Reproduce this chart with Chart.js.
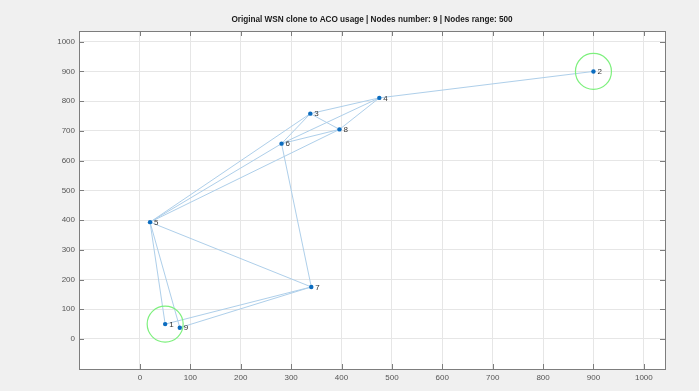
<!DOCTYPE html>
<html>
<head>
<meta charset="utf-8">
<script src="https://cdn.jsdelivr.net/npm/chart.js@4.4.0/dist/chart.umd.min.js"></script>
<style>
  html, body { margin: 0; padding: 0; background: #f0f0f0; }
  canvas { display: block; }
</style>
</head>
<body>
<canvas id="wsn" width="699" height="391"></canvas>
<script>
// ==============================
// DATA
// ==============================
const nodeIds = ['1', '2', '3', '4', '5', '6', '7', '8', '9'];
const nodeX = [50, 900, 338, 475, 20, 281, 340, 396, 79];
const nodeY = [50, 900, 758, 811, 393, 657, 175, 705, 38];

// links between nodes (by node id)
const linkFrom = ['1', '9', '1', '9', '5', '6', '5', '5', '5', '3', '3', '3', '6', '6', '8', '4'];
const linkTo   = ['5', '5', '7', '7', '7', '7', '3', '6', '8', '6', '4', '8', '8', '4', '4', '2'];

// sink / highlighted nodes
const ringIds = ['1', '2'];

const xTicks = [0, 100, 200, 300, 400, 500, 600, 700, 800, 900, 1000];
const yTicks = [0, 100, 200, 300, 400, 500, 600, 700, 800, 900, 1000];

const titleText = 'Original WSN clone to ACO usage | Nodes number: 9 | Nodes range: 500';

// ==============================
// BUILD DATASETS
// ==============================
const pt = id => {
  const i = nodeIds.indexOf(id);
  return { x: nodeX[i], y: nodeY[i] };
};

const linkSets = linkFrom.map((a, i) => ({
  type: 'line',
  data: [pt(a), pt(linkTo[i])],
  borderColor: '#aecfea',
  borderWidth: 1,
  pointRadius: 0,
  fill: false,
  order: 3
}));

const nodeSet = {
  data: nodeIds.map(pt),
  backgroundColor: '#0b6cbf',
  borderColor: '#0b6cbf',
  pointRadius: 2.2,
  borderWidth: 0,
  order: 1
};

const ringSet = {
  data: ringIds.map(pt),
  backgroundColor: 'rgba(0,0,0,0)',
  borderColor: '#7ef07e',
  pointRadius: 18,
  borderWidth: 1.2,
  order: 2
};

const NODE_INDEX = linkSets.length;

// ==============================
// PLUGINS
// ==============================
const background = {
  id: 'background',
  beforeDraw(chart) {
    const { ctx, chartArea: a } = chart;
    ctx.save();
    ctx.fillStyle = '#f0f0f0';
    ctx.fillRect(0, 0, chart.width, chart.height);
    ctx.fillStyle = '#ffffff';
    ctx.fillRect(a.left, a.top, a.right - a.left, a.bottom - a.top);
    ctx.restore();
  }
};

// matlab style box with inward ticks + title centred over the axes
const axesBox = {
  id: 'axesBox',
  afterDraw(chart) {
    const { ctx, chartArea: a, scales } = chart;
    ctx.save();
    ctx.strokeStyle = '#7d7d7d';
    ctx.lineWidth = 1;
    ctx.beginPath();
    xTicks.forEach(v => {
      const px = Math.round(scales.x.getPixelForValue(v)) + 0.5;
      ctx.moveTo(px, a.bottom); ctx.lineTo(px, a.bottom - 5);
      ctx.moveTo(px, a.top); ctx.lineTo(px, a.top + 5);
    });
    yTicks.forEach(v => {
      const py = Math.round(scales.y.getPixelForValue(v)) + 0.5;
      ctx.moveTo(a.left, py); ctx.lineTo(a.left + 5, py);
      ctx.moveTo(a.right, py); ctx.lineTo(a.right - 5, py);
    });
    ctx.stroke();
    ctx.strokeRect(Math.round(a.left) + 0.5, Math.round(a.top) + 0.5,
      Math.round(a.right - a.left), Math.round(a.bottom - a.top));

    ctx.fillStyle = '#1a1a1a';
    ctx.font = 'bold 8.2px "Liberation Sans", Arial, sans-serif';
    ctx.textAlign = 'center';
    ctx.textBaseline = 'middle';
    ctx.fillText(titleText, (a.left + a.right) / 2, a.top - 11);
    ctx.restore();
  }
};

const nodeLabels = {
  id: 'nodeLabels',
  afterDatasetsDraw(chart) {
    const { ctx } = chart;
    const meta = chart.getDatasetMeta(NODE_INDEX);
    ctx.save();
    ctx.fillStyle = '#333333';
    ctx.font = '8px "Liberation Sans", Arial, sans-serif';
    ctx.textBaseline = 'middle';
    meta.data.forEach((p, i) => {
      ctx.fillText(nodeIds[i], p.x + 4, p.y + 0.5);
    });
    ctx.restore();
  }
};

// ==============================
// CHART
// ==============================
Chart.defaults.font.family = '"Liberation Sans", Arial, sans-serif';

new Chart(document.getElementById('wsn'), {
  type: 'scatter',
  data: { datasets: [...linkSets, nodeSet, ringSet] },
  options: {
    responsive: false,
    animation: false,
    layout: { padding: { top: 31, right: 34, bottom: 0, left: 0 } },
    plugins: {
      legend: { display: false },
      tooltip: { enabled: false },
      title: { display: false }
    },
    scales: {
      x: {
        min: -121,
        max: 1042,
        afterBuildTicks: s => { s.ticks = xTicks.map(v => ({ value: v })); },
        afterFit: s => { s.height = 22; },
        ticks: { color: '#555', font: { size: 8 }, padding: 4, maxRotation: 0, autoSkip: false,
                 callback: v => String(v) },
        grid: { color: '#e6e6e6', lineWidth: 1, drawTicks: false },
        border: { display: false }
      },
      y: {
        min: -101,
        max: 1036,
        afterBuildTicks: s => { s.ticks = yTicks.map(v => ({ value: v })); },
        afterFit: s => { s.width = 79; },
        ticks: { color: '#555', font: { size: 8 }, padding: 4, autoSkip: false,
                 callback: v => String(v) },
        grid: { color: '#e6e6e6', lineWidth: 1, drawTicks: false },
        border: { display: false }
      }
    }
  },
  plugins: [background, axesBox, nodeLabels]
});
</script>
</body>
</html>
